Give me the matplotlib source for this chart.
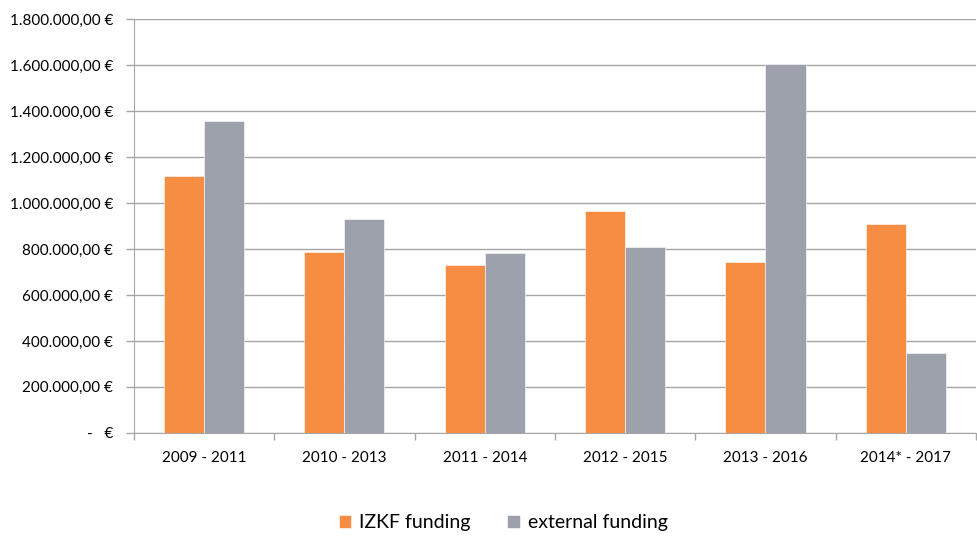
import numpy as np
import matplotlib.pyplot as plt
from matplotlib.ticker import FuncFormatter, MultipleLocator, FixedLocator

plt.rcParams['font.family'] = ['Lato', 'DejaVu Sans']

periods = ['2009 - 2011', '2010 - 2013', '2011 - 2014', '2012 - 2015', '2013 - 2016', '2014* - 2017']
izkf = [1118000, 786000, 730000, 965000, 744000, 910000]
external = [1357000, 933000, 782000, 808000, 1606000, 349000]

orange = '#F68D43'
grey = '#9DA1AC'
gridc = '#A6A6A6'


def euro(v, pos):
    if v == 0:
        return '-   €'
    s = '{:,.2f}'.format(v)
    s = s.replace(',', 'X').replace('.', ',').replace('X', '.')
    return s + ' €'


fig = plt.figure(figsize=(9.77, 5.39), dpi=100)
ax = fig.add_axes([0.137, 0.197, 0.862, 0.767])

x = np.arange(len(periods))
w = 1.0 / 3.5
ax.bar(x - w / 2, izkf, w, color=orange, edgecolor='white', linewidth=0.4, label='IZKF funding', zorder=3)
ax.bar(x + w / 2, external, w, color=grey, edgecolor='white', linewidth=0.4, label='external funding', zorder=3)

ax.set_xlim(-0.5, len(periods) - 0.5)
ax.set_ylim(0, 1800000)
ax.yaxis.set_major_locator(MultipleLocator(200000))
ax.yaxis.set_major_formatter(FuncFormatter(euro))
ax.grid(axis='y', color=gridc, linewidth=1.0, zorder=0)

ax.set_xticks(x)
ax.set_xticklabels(periods)
ax.xaxis.set_minor_locator(FixedLocator(np.arange(-0.5, len(periods), 1.0)))
ax.tick_params(axis='x', which='major', length=0, pad=13, labelsize=11, colors='#000000')
ax.tick_params(axis='x', which='minor', length=5, color=gridc, width=1.0)
ax.tick_params(axis='y', length=6, color=gridc, width=1.0, pad=9, labelsize=11, labelcolor='#000000')

for side in ['top', 'right']:
    ax.spines[side].set_visible(False)
ax.spines['left'].set_color(gridc)
ax.spines['bottom'].set_color(gridc)

leg = fig.legend(loc='lower center', bbox_to_anchor=(0.515, -0.018), ncol=2, frameon=False,
                 fontsize=14, handlelength=0.65, handleheight=0.65, handletextpad=0.4,
                 columnspacing=1.9)

fig.savefig('out.png', dpi=100)
